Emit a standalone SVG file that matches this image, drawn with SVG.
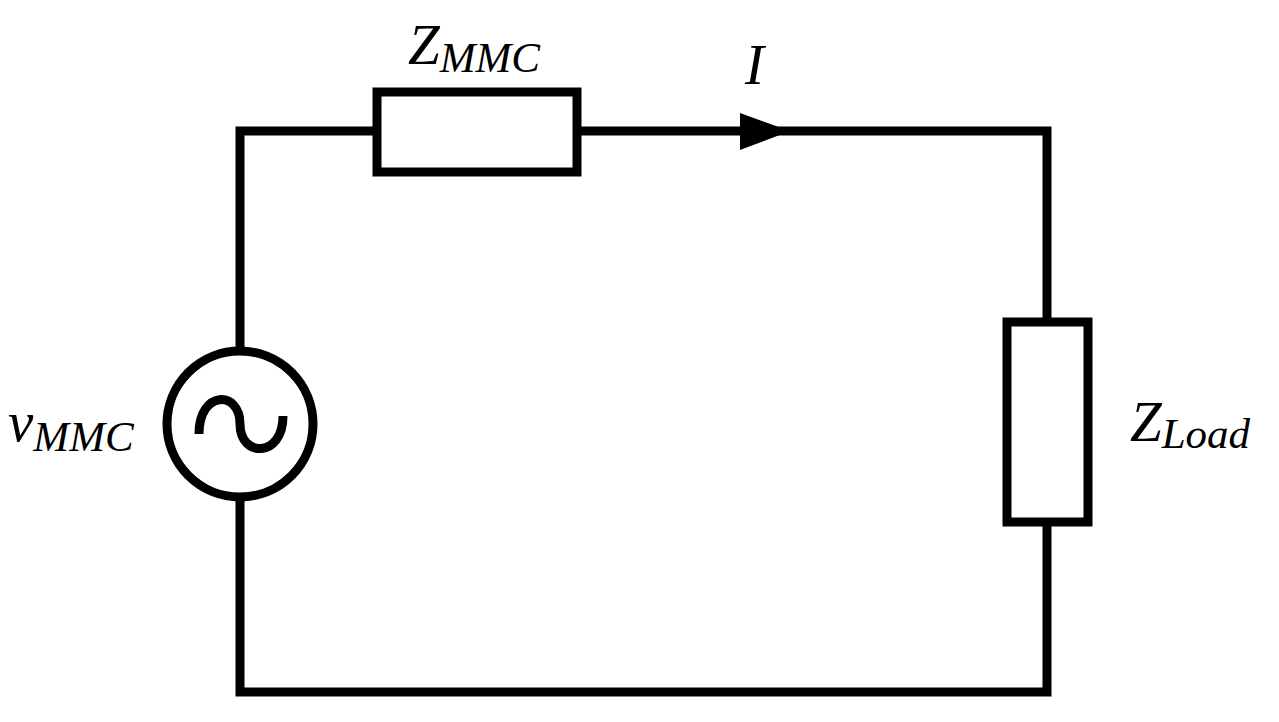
<svg xmlns="http://www.w3.org/2000/svg" width="1279" height="722" viewBox="0 0 1279 722">
<style>
.w{fill:none;stroke:#000;stroke-width:9;stroke-linejoin:miter}
.t{font-family:"Liberation Serif",serif;font-style:italic;fill:#000}
</style>
<rect width="1279" height="722" fill="#fff"/>
<g id="connectors">
<polyline class="w" points="377,131 240,131 240,348"/>
<polyline class="w" points="240,500 240,692 1047,692 1047,522"/>
<polyline class="w" points="577,131 1047,131 1047,322"/>
<polygon points="740,113 790,131 740,150" fill="#000"/>
</g>
<g id="zmmc"><rect class="w" x="377" y="92" width="200" height="80"/></g>
<g id="zload"><rect class="w" x="1007" y="322" width="81" height="200"/></g>
<g id="source">
<circle class="w" cx="240" cy="424" r="73"/>
<path class="w" d="M199,434 C199,390 240,390 240,424 C240,458 283,458 283,416"/>
</g>
<g id="labels">
<text class="t" x="408" y="64" font-size="57">Z<tspan font-size="43" dy="8">MMC</tspan></text>
<text class="t" x="745" y="84" font-size="57">I</text>
<text class="t" x="8" y="441" font-size="57">v<tspan font-size="43" dy="10">MMC</tspan></text>
<text class="t" x="1130" y="441" font-size="57">Z<tspan font-size="43" dy="7">Load</tspan></text>
</g>
</svg>
